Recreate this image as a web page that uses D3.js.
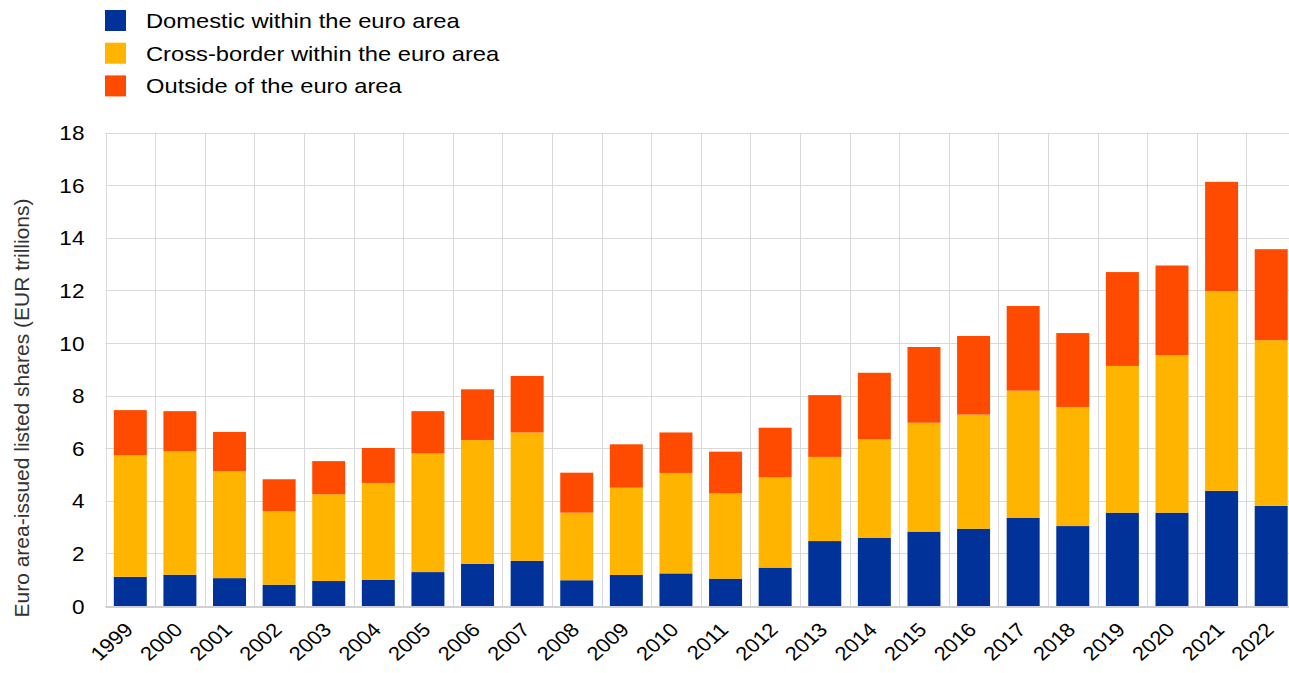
<!DOCTYPE html>
<html>
<head>
<meta charset="utf-8">
<script src="https://cdn.jsdelivr.net/npm/d3@7"></script>
<style>
  html, body { margin: 0; padding: 0; background: #fff; }
  svg { display: block; font-family: "Liberation Sans", Arial, sans-serif; }
</style>
</head>
<body>
<svg id="chart" width="1289" height="673"></svg>
<script>
const years = ["1999","2000","2001","2002","2003","2004","2005","2006","2007","2008","2009","2010","2011","2012","2013","2014","2015","2016","2017","2018","2019","2020","2021","2022"];
const domestic    = [1.11, 1.19, 1.06, 0.81, 0.95, 0.99, 1.29, 1.60, 1.72, 0.98, 1.18, 1.24, 1.04, 1.46, 2.47, 2.60, 2.83, 2.94, 3.36, 3.04, 3.55, 3.55, 4.38, 3.81];
const crossBorder = [4.63, 4.70, 4.07, 2.80, 3.30, 3.69, 4.51, 4.71, 4.88, 2.57, 3.32, 3.82, 3.24, 3.43, 3.20, 3.74, 4.14, 4.34, 4.83, 4.53, 5.58, 5.99, 7.60, 6.30];
const outside     = [1.71, 1.52, 1.49, 1.21, 1.26, 1.33, 1.61, 1.93, 2.15, 1.52, 1.65, 1.54, 1.59, 1.89, 2.35, 2.53, 2.88, 2.99, 3.22, 2.81, 3.57, 3.41, 4.15, 3.46];
const seriesNames = ["Domestic within the euro area", "Cross-border within the euro area", "Outside of the euro area"];
const seriesColors = ["#003299", "#FFB400", "#FF4B00"];
const yTicks = [0, 2, 4, 6, 8, 10, 12, 14, 16, 18];
const yTitle = "Euro area-issued listed shares (EUR trillions)";

(function () {
const svg = d3.select("#chart");
const pLeft = 105.5, pRight = 1296, pTop = 132.7, pBottom = 606;
const stretch = 1.13; // horizontal stretch of the reference's text

const table = years.map((yr, i) => ({year: yr, d: domestic[i], c: crossBorder[i], o: outside[i]}));
const stacked = d3.stack().keys(["d", "c", "o"])(table);

const x = d3.scaleBand().domain(years).range([pLeft, pRight]).paddingInner(0.335).paddingOuter(0.1675);
const y = d3.scaleLinear().domain([0, 18]).range([pBottom, pTop]);

// horizontal gridlines
svg.append("g").selectAll("line").data(yTicks).join("line")
  .attr("x1", pLeft).attr("x2", 1289)
  .attr("y1", d => Math.round(y(d)) + 0.5).attr("y2", d => Math.round(y(d)) + 0.5)
  .attr("stroke", "#d9d9d9").attr("stroke-width", 1);

// vertical gridlines at category boundaries
const step = x.step();
const boundaries = years.map((yr, i) => pLeft + i * step).concat([pRight]);
svg.append("g").selectAll("line").data(boundaries).join("line")
  .attr("x1", d => Math.round(d) + 0.5).attr("x2", d => Math.round(d) + 0.5)
  .attr("y1", pTop).attr("y2", pBottom)
  .attr("stroke", "#d9d9d9").attr("stroke-width", 1);

// bars
svg.append("g").selectAll("g").data(stacked).join("g")
  .attr("fill", (d, i) => seriesColors[i])
  .selectAll("rect").data(d => d).join("rect")
  .attr("x", d => x(d.data.year))
  .attr("width", x.bandwidth())
  .attr("y", d => y(d[1]))
  .attr("height", d => y(d[0]) - y(d[1]));

// bottom axis line
svg.append("line").attr("x1", pLeft).attr("x2", 1289).attr("y1", pBottom + 1).attr("y2", pBottom + 1)
  .attr("stroke", "#d0d0d0").attr("stroke-width", 2);

// y axis
const yAxis = d3.axisLeft(y).tickValues(yTicks).tickSize(0).tickPadding(0).tickFormat(d3.format("d"));
const gy = svg.append("g").attr("transform", `translate(${pLeft - 21},0)`).call(yAxis);
gy.select(".domain").remove();
gy.selectAll(".tick text")
  .attr("font-size", 20).attr("fill", "#000")
  .attr("font-family", "Liberation Sans, Arial, sans-serif")
  .attr("x", 0).attr("dy", "0.35em")
  .attr("transform", `scale(${stretch},1)`);

// x axis
const xAxis = d3.axisBottom(x).tickSize(0).tickPadding(0);
const gx = svg.append("g").attr("transform", `translate(0,${pBottom})`).call(xAxis);
gx.select(".domain").remove();
gx.selectAll("text")
  .attr("font-size", 19.5).attr("fill", "#000").attr("font-family", "Liberation Sans, Arial, sans-serif")
  .attr("text-anchor", "end")
  .attr("dy", 0).attr("y", 0)
  .attr("transform", `translate(4,25) scale(${stretch},1) rotate(-45)`);

// y title
svg.append("text")
  .attr("transform", `translate(29,408) rotate(-90)`)
  .attr("text-anchor", "middle")
  .attr("font-size", 21).attr("fill", "#333")
  .text(yTitle);

// legend
const legend = svg.append("g");
seriesNames.forEach((name, i) => {
  const cy = 20.5 + i * 32.7;
  legend.append("rect").attr("x", 105).attr("y", cy - 10.5).attr("width", 21).attr("height", 21).attr("fill", seriesColors[i]);
  legend.append("text").attr("transform", `translate(146,${cy}) scale(${stretch},1)`).attr("dy", "0.35em")
    .attr("font-size", 21).attr("fill", "#000").text(name);
});
})();
</script>
</body>
</html>
